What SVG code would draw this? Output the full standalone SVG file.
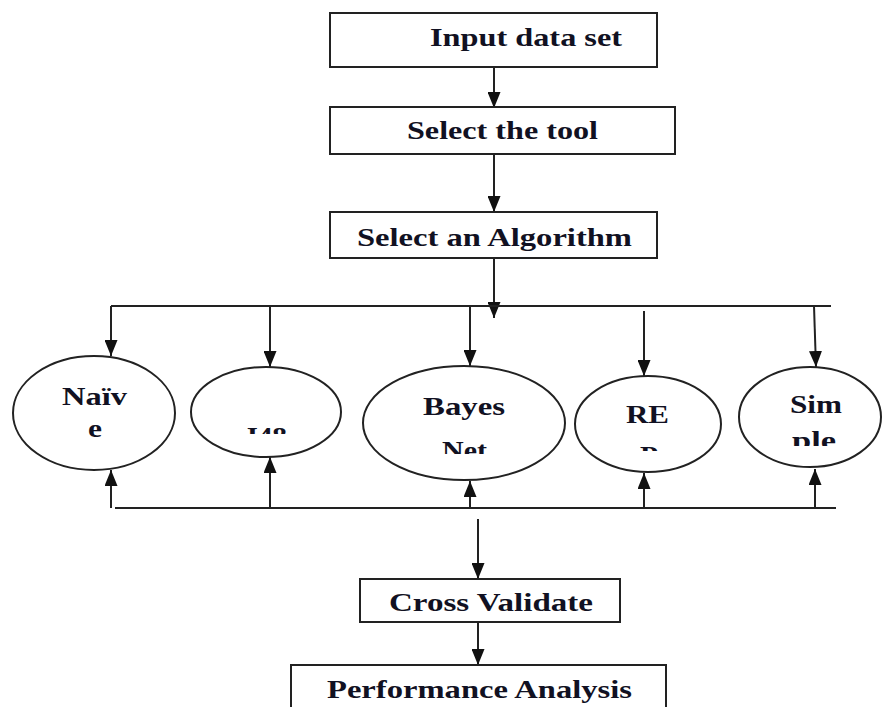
<svg xmlns="http://www.w3.org/2000/svg" width="882" height="707" viewBox="0 0 882 707">
  <style>
    .box { fill: #ffffff; stroke: #222222; stroke-width: 2; }
    .node { fill: #ffffff; stroke: #222222; stroke-width: 2; }
    .lbl { font-family: "Liberation Serif", "Times New Roman", serif; font-weight: bold; font-size: 26px; fill: #111122; }
    .lbl.in { font-size: 25px; }
    .wire { fill: none; stroke: #222222; stroke-width: 2; }
    .arrow { fill: none; stroke: #222222; stroke-width: 2; marker-end: url(#head); }
  </style>
  <defs>
    <marker id="head" markerUnits="userSpaceOnUse" markerWidth="16" markerHeight="13" refX="16" refY="6.5" orient="auto">
      <path d="M0,0 L16,6.5 L0,13 z" fill="#111111"/>
    </marker>
    <!-- second label lines are cut off at these heights -->
    <clipPath id="cut-j48"><rect x="180" y="380" width="170" height="54"/></clipPath>
    <clipPath id="cut-bayes"><rect x="360" y="360" width="210" height="94"/></clipPath>
    <clipPath id="cut-rep"><rect x="570" y="370" width="155" height="81"/></clipPath>
    <clipPath id="cut-simple"><rect x="735" y="360" width="147" height="86"/></clipPath>
  </defs>

  <rect width="882" height="707" fill="#ffffff"/>

  <g id="connectors">
    <line class="arrow" x1="494" y1="67" x2="494" y2="108"/>
    <line class="arrow" x1="494" y1="154" x2="494" y2="212"/>
    <line class="arrow" x1="494" y1="258" x2="494" y2="318"/>
    <!-- distribution bus -->
    <line class="wire" x1="111" y1="306" x2="831" y2="306"/>
    <line class="arrow" x1="111" y1="306" x2="111" y2="356"/>
    <line class="arrow" x1="270" y1="306" x2="270" y2="367"/>
    <line class="arrow" x1="470" y1="306" x2="470" y2="366"/>
    <line class="arrow" x1="644" y1="311" x2="644" y2="376"/>
    <line class="arrow" x1="814" y1="306" x2="816" y2="367"/>
    <!-- collection bus -->
    <line class="wire" x1="115" y1="508" x2="836" y2="508"/>
    <line class="arrow" x1="111" y1="508" x2="111" y2="470"/>
    <line class="arrow" x1="270" y1="508" x2="270" y2="457"/>
    <line class="arrow" x1="470" y1="508" x2="470" y2="481"/>
    <line class="arrow" x1="644" y1="508" x2="644" y2="473"/>
    <line class="arrow" x1="815" y1="508" x2="815" y2="469"/>
    <line class="arrow" x1="478" y1="519" x2="478" y2="579"/>
    <line class="arrow" x1="478" y1="622" x2="478" y2="665"/>
  </g>

  <g id="input-data-set">
    <rect class="box" x="330" y="13" width="327" height="54"/>
    <text class="lbl" x="430" y="46" textLength="192" lengthAdjust="spacingAndGlyphs">Input data set</text>
  </g>

  <g id="select-tool">
    <rect class="box" x="330" y="107" width="345" height="47"/>
    <text class="lbl" x="407" y="139" textLength="191" lengthAdjust="spacingAndGlyphs">Select the tool</text>
  </g>

  <g id="select-algorithm">
    <rect class="box" x="330" y="212" width="327" height="46"/>
    <text class="lbl" x="357" y="246" textLength="275" lengthAdjust="spacingAndGlyphs">Select an Algorithm</text>
  </g>

  <g id="naive">
    <ellipse class="node" cx="94" cy="413" rx="81" ry="57"/>
    <text class="lbl in" x="62" y="405" textLength="65" lengthAdjust="spacingAndGlyphs">Naïv</text>
    <text class="lbl in" x="88" y="437" textLength="14" lengthAdjust="spacingAndGlyphs">e</text>
  </g>

  <g id="j48">
    <ellipse class="node" cx="266" cy="412" rx="75" ry="45"/>
    <text class="lbl in" x="243" y="445" textLength="44" lengthAdjust="spacingAndGlyphs" clip-path="url(#cut-j48)">J48</text>
  </g>

  <g id="bayes-net">
    <ellipse class="node" cx="464" cy="423" rx="101" ry="57"/>
    <text class="lbl in" x="423" y="415" textLength="82" lengthAdjust="spacingAndGlyphs">Bayes</text>
    <text class="lbl in" x="442" y="459" textLength="45" lengthAdjust="spacingAndGlyphs" clip-path="url(#cut-bayes)">Net</text>
  </g>

  <g id="rep">
    <ellipse class="node" cx="648" cy="424" rx="73" ry="48"/>
    <text class="lbl in" x="626" y="423" textLength="43" lengthAdjust="spacingAndGlyphs">RE</text>
    <text class="lbl in" x="640" y="464" textLength="18" lengthAdjust="spacingAndGlyphs" clip-path="url(#cut-rep)">P</text>
  </g>

  <g id="simple">
    <ellipse class="node" cx="810" cy="417" rx="71" ry="50"/>
    <text class="lbl in" x="790" y="413" textLength="52" lengthAdjust="spacingAndGlyphs">Sim</text>
    <text class="lbl in" x="792" y="449" textLength="44" lengthAdjust="spacingAndGlyphs" clip-path="url(#cut-simple)">ple</text>
  </g>

  <g id="cross-validate">
    <rect class="box" x="360" y="579" width="260" height="43"/>
    <text class="lbl" x="389" y="611" textLength="204" lengthAdjust="spacingAndGlyphs">Cross Validate</text>
  </g>

  <g id="performance-analysis">
    <rect class="box" x="291" y="665" width="375" height="60"/>
    <text class="lbl" x="327" y="698" textLength="305" lengthAdjust="spacingAndGlyphs">Performance Analysis</text>
  </g>
</svg>
